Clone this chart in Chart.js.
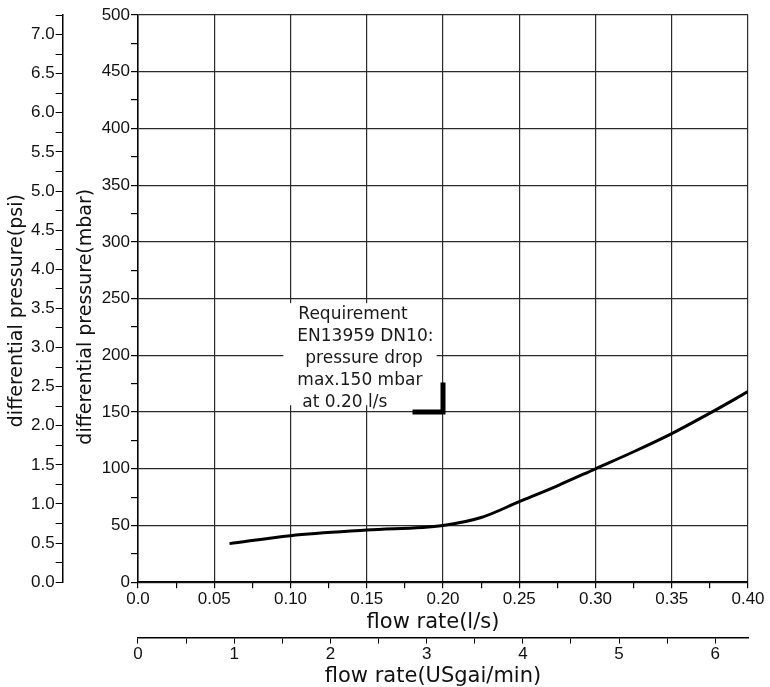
<!DOCTYPE html>
<html lang="en">
<head>
<meta charset="UTF-8">
<title>Differential pressure vs flow rate</title>
<style>
  html, body { margin: 0; padding: 0; background: #fff; }
  .wrap { position: relative; width: 770px; height: 687px; }
</style>
</head>
<body>
<div class="wrap"><canvas id="chart"></canvas></div>
<script src="https://cdn.jsdelivr.net/npm/chart.js"></script>
<script>
// curve: flow rate (l/s) -> differential pressure (mbar)
const flowLs = [0.06, 0.10, 0.15, 0.20, 0.225, 0.25, 0.275, 0.30, 0.325, 0.35, 0.375, 0.40];
const dpMbar = [34, 41, 46, 50, 57, 71, 85, 100, 115, 131, 149, 168];

// EN13959 DN10 requirement corner marker
const reqFlow = [0.18, 0.20, 0.20];
const reqMbar = [150, 150, 176];

// tick labels
const lsLabels = ['0.0', '0.05', '0.10', '0.15', '0.20', '0.25', '0.30', '0.35', '0.40'];
const gpmLabels = ['0', '1', '2', '3', '4', '5', '6'];
const mbarLabels = ['0', '50', '100', '150', '200', '250', '300', '350', '400', '450', '500'];
const psiLabels = ['0.0', '0.5', '1.0', '1.5', '2.0', '2.5', '3.0', '3.5', '4.0', '4.5', '5.0', '5.5', '6.0', '6.5', '7.0'];

const noteLines = ['Requirement', 'EN13959 DN10:', 'pressure drop', 'max.150 mbar', 'at 0.20 l/s'];

// axis ranges (psi and USgal/min are the same range in other units)
const MBAR_MAX = 500, PSI_MAX = 7.25;
const LS_MAX = 0.40, GPM_MAX = 6.34;

// white box behind the note, in data units, and text indents in px
const noteArea = { x0: 0.0953, x1: 0.1958, y0: 246, y1: 156 };
const noteIndent = [15, 14, 22, 14, 19];

const tickFont = { family: 'Liberation Sans', size: 17 };
const xTitleFont = { family: 'DejaVu Sans', size: 21, lineHeight: 1 };
const yTitleFont = { family: 'DejaVu Sans', size: 19, lineHeight: 1 };
const GRID = '#2a2a2a';
const INK = '#111';

function isStep(v, step) {
  const r = v / step;
  return Math.abs(r - Math.round(r)) < 1e-6;
}

function labelFrom(list, step) {
  return v => isStep(v, step) ? (list[Math.round(v / step)] ?? '') : '';
}

const notePlugin = {
  id: 'note',
  beforeDatasetsDraw(chart) {
    const { ctx, scales: { x, y } } = chart;
    const left = x.getPixelForValue(noteArea.x0);
    const right = x.getPixelForValue(noteArea.x1);
    const top = y.getPixelForValue(noteArea.y0);
    const bottom = y.getPixelForValue(noteArea.y1);
    ctx.save();
    ctx.fillStyle = '#fff';
    ctx.fillRect(left, top, right - left, bottom - top);
    ctx.fillStyle = '#1a1a1a';
    ctx.font = '17px "DejaVu Sans"';
    ctx.textBaseline = 'middle';
    noteLines.forEach((t, i) => ctx.fillText(t, left + noteIndent[i], top + 11 + i * 22));
    ctx.restore();
  }
};

new Chart(document.getElementById('chart'), {
  type: 'line',
  data: {
    datasets: [
      {
        data: flowLs.map((v, i) => ({ x: v, y: dpMbar[i] })),
        borderColor: '#000',
        borderWidth: 3,
        pointRadius: 0,
        cubicInterpolationMode: 'monotone',
        xAxisID: 'x', yAxisID: 'y'
      },
      {
        data: reqFlow.map((v, i) => ({ x: v, y: reqMbar[i] })),
        borderColor: '#000',
        borderWidth: 5,
        pointRadius: 0,
        tension: 0,
        borderJoinStyle: 'miter',
        xAxisID: 'x', yAxisID: 'y'
      }
    ]
  },
  options: {
    responsive: true,
    maintainAspectRatio: false,
    animation: false,
    layout: { padding: { left: 0, right: 22, top: 15, bottom: 0 } },
    plugins: { legend: { display: false }, tooltip: { enabled: false } },
    scales: {
      x: {
        type: 'linear', position: 'bottom', weight: 0,
        min: 0, max: LS_MAX,
        border: { color: '#000', width: 1.5 },
        grid: {
          color: c => (c.tick && isStep(c.tick.value, 0.05)) ? GRID : 'transparent',
          tickColor: '#000', tickLength: 6, lineWidth: 1.2
        },
        ticks: {
          stepSize: 0.025, autoSkip: false, maxRotation: 0, padding: 1,
          color: INK, font: tickFont,
          callback: labelFrom(lsLabels, 0.05)
        },
        // trailing spaces shift the titles slightly left of centre, as drawn
        title: { display: true, text: 'flow rate(l/s)   ', color: INK, font: xTitleFont, padding: { top: 1, bottom: 5 } }
      },
      x2: {
        type: 'linear', position: 'bottom', weight: 1,
        min: 0, max: GPM_MAX,
        afterBuildTicks: s => {
          const t = [];
          for (let i = 0; i * 0.5 <= s.max; i++) t.push({ value: i * 0.5 });
          s.ticks = t;
        },
        border: { color: '#000', width: 1.5 },
        grid: { drawOnChartArea: false, tickColor: '#000', tickLength: 6 },
        ticks: {
          autoSkip: false, maxRotation: 0, padding: 1,
          color: INK, font: tickFont,
          callback: labelFrom(gpmLabels, 1)
        },
        title: { display: true, text: 'flow rate(USgai/min)   ', color: INK, font: xTitleFont, padding: { top: 0, bottom: 0 } }
      },
      y: {
        type: 'linear', position: 'left', weight: 0,
        min: 0, max: MBAR_MAX,
        border: { color: '#000', width: 1.5 },
        grid: {
          color: c => (c.tick && isStep(c.tick.value, 50)) ? GRID : 'transparent',
          tickColor: '#000', tickLength: 7, lineWidth: 1.2
        },
        ticks: {
          stepSize: 25, autoSkip: false, padding: 1,
          color: INK, font: tickFont,
          callback: labelFrom(mbarLabels, 50)
        },
        // trailing spaces nudge the title a little below the axis centre, as drawn
        title: { display: true, text: 'differential pressure(mbar)      ', color: INK, font: yTitleFont, padding: { top: 14, bottom: 5 } }
      },
      y2: {
        type: 'linear', position: 'left', weight: 1,
        min: 0, max: PSI_MAX,
        border: { color: '#000', width: 1.5 },
        grid: { drawOnChartArea: false, tickColor: '#000', tickLength: 7 },
        ticks: {
          stepSize: 0.25, autoSkip: false, padding: 1,
          color: INK, font: tickFont,
          callback: labelFrom(psiLabels, 0.5)
        },
        title: { display: true, text: 'differential pressure(psi)    ', color: INK, font: yTitleFont, padding: { top: 8, bottom: 3 } }
      }
    }
  },
  plugins: [notePlugin]
});
</script>
</body>
</html>
